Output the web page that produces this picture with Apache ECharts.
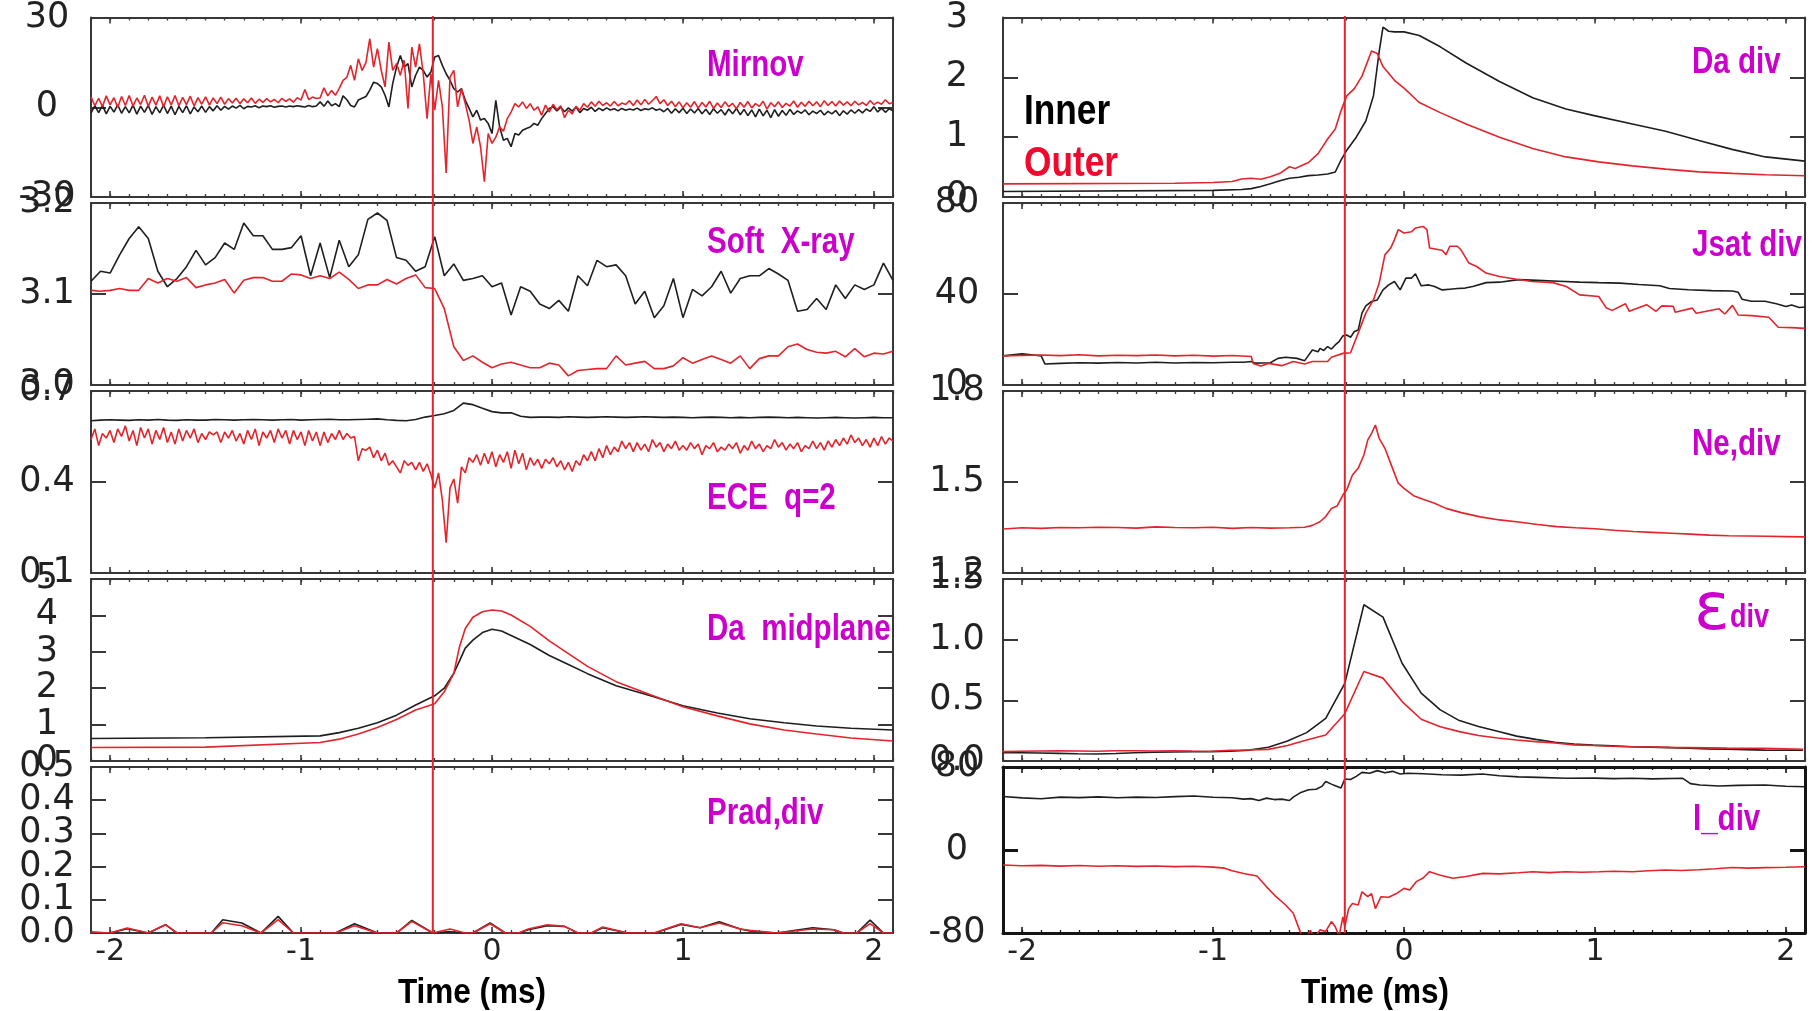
<!DOCTYPE html>
<html>
<head>
<meta charset="utf-8">
<script src="https://cdn.jsdelivr.net/npm/echarts@6/dist/echarts.min.js"></script>
<style>
  html, body { margin: 0; padding: 0; background: #ffffff; }
  #chart { width: 1812px; height: 1011px; }
</style>
</head>
<body>
<div id="chart"></div>
<script>
// ---------------- time axis (ms) ----------------
const timeMin = -2.1, timeMax = 2.1;
const timeTicks = [-2, -1, 0, 1, 2];
const eventTime = -0.31;          // vertical marker drawn through every panel

// ---------------- Mirnov (sampled every 0.02 ms from -2.1 ms) ----------------
const mirnovStart = -2.1, mirnovStep = 0.02;
const mirnovInner = [
  -2.0, 0.5, -1.8, 0.6, -2.2, 0.3, -1.6, 0.8, -2.0, 0.2,
  -1.9, 0.7, -2.3, 0.4, -1.7, 0.6, -2.4, 0.2, -1.9, 0.7,
  -2.1, 0.4, -2.5, 0.3, -1.8, 0.5, -2.2, 0.1, -1.5, 0.4,
  -1.7, 0.2, -1.2, 0.5, -1.0, 0.3,
  -0.6, 0.4, -0.3, 0.6, -0.5, 0.3, 0.1, 0.5, -0.2, 0.4,
  0.2, 0.5, 0.0, 0.3, 0.4, 0.1, 0.4, 0.2, 0.5, 0.3,
  0.1, 0.6, 0.2, 0.4,
  1.8, 0.3, 2.1, 0.5, 1.2, 0.2, 3.8, 2.5, 0.6, 0.1, 2.4, 3.0, 3.6,
  5.7, 8.4, 7.9, 6.8, 4.0, 0.1, 7.9, 13.4, 17.3, 13.4,
  14.6, 6.8, 10.7, 13.4, 12.3, 10.1, 11.8, 16.8, 17.3, 14.0,
  11.2, 9.0, 6.2, 5.1, 6.2, 2.3, -0.4, -3.2, -1.0, -4.3,
  -3.8, -5.4, -8.8, 2.3, -6.6, -11.0, -10.4, -13.2, -8.8, -9.3,
  -7.7, -7.1, -6.6, -5.4, -6.0, -3.8, -2.1, -0.4,
  0.2, -1.2, 0.0, -1.5, -0.2, -1.3, 0.1, -1.8, -0.4, -1.0,
  0.0, -1.4, -0.3, -1.1, -0.2, -0.9, -0.5, -1.2, -0.4, -1.0,
  -0.6, -0.9, -0.3, -1.1, -0.5, -0.8, -0.2, -1.0, -0.6, -1.5,
  -0.4, -2.0, -0.5, -1.8, -0.3, -2.1, -0.6, -1.9, -0.4, -2.2,
  -0.7, -2.4, -0.5, -2.0, -0.8, -2.6, -0.6, -2.2, -0.4, -2.5,
  -0.7, -2.8, -0.9, -3.2, -0.6, -2.9, -1.0, -3.5, -0.8, -3.0,
  -1.1, -2.7, -0.7, -2.4, -1.2, -2.0, -0.9, -2.5, -1.3, -2.1,
  -1.0, -2.6, -1.4, -2.2, -1.1, -2.8, -1.2, -2.3, -0.9, -2.0,
  -0.8, -1.9, -0.6, -1.4, 0.2, -1.6, -0.3, -1.7, -0.5, -1.2
];
const mirnovOuter = [
  3.5, 0.5, 3.0, 0.2, 3.8, 0.8, 3.2, 0.0, 3.6, 0.6,
  3.9, 0.4, 3.1, 0.9, 4.0, 0.3, 3.4, 0.7, 3.8, 0.2,
  3.5, 0.8, 3.9, 0.5, 3.3, 0.9, 3.7, 0.4, 3.2, 1.0,
  3.5, 0.7, 3.1, 1.2, 3.4, 1.0, 2.9, 1.4, 3.0, 1.2,
  2.8, 1.5, 3.1, 1.3, 2.7,
  1.6, 2.9, 1.8, 2.6, 1.5, 3.0, 2.0, 2.8, 1.7, 3.2, 2.4, 5.9, 2.6, 3.4, 2.9,
  3.2, 6.5, 3.8, 5.6, 4.0, 6.3, 9.0, 10.0, 14.0, 9.0, 16.2, 12.3,
  15.0, 22.9, 13.4, 19.6, 12.3, 6.8, 21.8, 12.3, 14.6, 10.7,
  15.7, -0.4, 20.1, 13.4, 21.2, 11.2, -3.8, 11.2, -1.0, 9.0,
  0.1, -22.0, 10.1, 12.3, 0.1, 6.2, 1.2, -4.3, -12.1, -6.6,
  -13.2, -24.9, -8.8, -12.1, -10.0, -6.5, -8.0, -3.8, -1.6, 1.2,
  0.1, 1.8, -0.4, 1.2, -1.0, 0.1, -2.7, 0.7, -1.6,
  1.0, -0.8, 0.5, -3.5, -1.0, -2.2, 0.3, -1.0, 1.2, 0.0,
  1.8, 0.3, 2.0, 0.6, 1.5, 0.4, 1.9, 0.5, 1.4, 0.9,
  2.2, 0.6, 2.4, 0.8, 2.6, 1.0, 2.2, 3.6, 1.2, 2.5,
  0.6, 2.0, 0.2, 1.8, -0.2, 1.5, 0.0, 1.9, -0.3, 1.6,
  0.1, 2.0, -0.4, 1.4, -0.1, 1.8, 0.2, 1.3, -0.5, 1.6,
  0.0, 1.9, -0.2, 1.2, 0.3, 2.0, -0.6, 1.5, 0.2, 1.8,
  -0.1, 1.3, 0.4, 2.1, 0.0, 1.7, 0.3, 2.0, 0.5, 1.8,
  0.2, 2.2, 0.6, 1.9, 0.4, 2.1, 0.7, 1.8, 0.5, 2.0,
  0.8, 1.6, 0.6, 2.2, 0.9, 1.7, 1.0, 2.5, 1.2, 1.6
];

// ---------------- Soft X-ray (every 0.05 ms from -2.1 ms) ----------------
const sxrStart = -2.1, sxrStep = 0.05;
const sxrInner = [
  3.114, 3.125, 3.123, 3.143, 3.161, 3.174, 3.161, 3.125, 3.108, 3.117,
  3.130, 3.148, 3.132, 3.140, 3.156, 3.149, 3.178, 3.164, 3.164, 3.149,
  3.149, 3.151, 3.164, 3.120, 3.156, 3.118, 3.159, 3.130, 3.143, 3.182,
  3.189, 3.181, 3.140, 3.137, 3.125, 3.130, 3.163, 3.120, 3.133, 3.115,
  3.117, 3.120, 3.108, 3.112, 3.077, 3.108, 3.103, 3.089, 3.084, 3.093,
  3.081, 3.120, 3.109, 3.137, 3.130, 3.132, 3.120, 3.089, 3.103, 3.074,
  3.087, 3.117, 3.074, 3.105, 3.098, 3.108, 3.125, 3.101, 3.117, 3.120,
  3.120, 3.128, 3.122, 3.115, 3.081, 3.083, 3.095, 3.083, 3.110, 3.095,
  3.110, 3.105, 3.110, 3.134, 3.115
];
const sxrOuter = [
  3.104, 3.103, 3.104, 3.106, 3.104, 3.104, 3.117, 3.112, 3.117, 3.114,
  3.118, 3.107, 3.110, 3.112, 3.116, 3.101, 3.115, 3.118, 3.118, 3.114,
  3.114, 3.122, 3.121, 3.117, 3.120, 3.117, 3.124, 3.116, 3.106, 3.110,
  3.110, 3.116, 3.111, 3.117, 3.121, 3.107, 3.106, 3.084, 3.042, 3.027,
  3.032, 3.025, 3.019, 3.023, 3.025, 3.022, 3.019, 3.019, 3.024, 3.022,
  3.010, 3.016, 3.017, 3.018, 3.018, 3.032, 3.022, 3.024, 3.026, 3.018,
  3.018, 3.021, 3.030, 3.024, 3.028, 3.032, 3.028, 3.024, 3.032, 3.018,
  3.029, 3.032, 3.032, 3.042, 3.045, 3.039, 3.036, 3.035, 3.037, 3.031,
  3.040, 3.031, 3.035, 3.034, 3.037
];

// ---------------- ECE q=2 ----------------
const eceInnerStart = -2.1, eceInnerStep = 0.05;
const eceInner = [
  0.602, 0.604, 0.605, 0.604, 0.603, 0.605, 0.604, 0.606, 0.604, 0.603,
  0.605, 0.604, 0.604, 0.606, 0.605, 0.604, 0.605, 0.606, 0.605, 0.604,
  0.605, 0.606, 0.604, 0.605, 0.606, 0.607, 0.605, 0.605, 0.606, 0.607,
  0.608, 0.605, 0.603, 0.602, 0.606, 0.614, 0.619, 0.625, 0.636, 0.660,
  0.655, 0.643, 0.632, 0.628, 0.628, 0.617, 0.613, 0.614, 0.614, 0.613,
  0.615, 0.614, 0.613, 0.614, 0.615, 0.614, 0.613, 0.614, 0.615, 0.614,
  0.613, 0.614, 0.613, 0.612, 0.613, 0.614, 0.613, 0.612, 0.613, 0.612,
  0.613, 0.614, 0.613, 0.612, 0.613, 0.612, 0.611, 0.612, 0.613, 0.612,
  0.611, 0.612, 0.613, 0.612, 0.612
];
const eceOuterStart = -2.1, eceOuterStep = 0.02;
const eceOuter = [
  0.54, 0.575, 0.52, 0.56, 0.545, 0.57, 0.53, 0.575, 0.55, 0.585,
  0.535, 0.57, 0.52, 0.58, 0.545, 0.575, 0.525, 0.57, 0.54, 0.58,
  0.53, 0.565, 0.525, 0.575, 0.535, 0.57, 0.545, 0.575, 0.53, 0.56,
  0.54, 0.565, 0.555, 0.565, 0.53, 0.565, 0.545, 0.57, 0.535, 0.56,
  0.525, 0.57, 0.54, 0.575, 0.52, 0.565, 0.545, 0.57, 0.53, 0.575,
  0.545, 0.57, 0.525, 0.57, 0.54, 0.565, 0.52, 0.57, 0.535, 0.565,
  0.52, 0.565, 0.53, 0.56, 0.54, 0.57, 0.54, 0.56, 0.545, 0.55,
  0.47, 0.51, 0.505, 0.515, 0.48, 0.505, 0.47, 0.495, 0.455, 0.47,
  0.45, 0.43, 0.47, 0.455, 0.465, 0.44, 0.465, 0.435, 0.46, 0.425,
  0.38, 0.43, 0.34, 0.20, 0.38, 0.41, 0.33, 0.45, 0.43, 0.48, 0.465,
  0.49, 0.455, 0.495, 0.46, 0.5, 0.45, 0.49, 0.465, 0.5, 0.445,
  0.505, 0.46, 0.495, 0.44, 0.48, 0.455, 0.475, 0.445, 0.475, 0.46,
  0.48, 0.45, 0.47, 0.44, 0.465, 0.435, 0.47, 0.455, 0.49, 0.47,
  0.5, 0.47, 0.51, 0.48, 0.52, 0.49, 0.515,
  0.5, 0.535, 0.51, 0.53, 0.5, 0.53, 0.505, 0.525, 0.5, 0.54,
  0.515, 0.53, 0.5, 0.525, 0.51, 0.535, 0.505, 0.52, 0.505, 0.53,
  0.51, 0.525, 0.49, 0.52, 0.51, 0.53, 0.5, 0.515, 0.505, 0.525,
  0.51, 0.53, 0.495, 0.52, 0.505, 0.535, 0.51, 0.525, 0.5, 0.52,
  0.51, 0.54, 0.515, 0.53, 0.505, 0.525, 0.51, 0.53, 0.5, 0.52,
  0.51, 0.535, 0.51, 0.53, 0.505, 0.535, 0.515, 0.54, 0.52, 0.545,
  0.525, 0.555, 0.53, 0.545, 0.52, 0.54, 0.515, 0.545, 0.52, 0.55,
  0.525, 0.545, 0.535
];

// ---------------- Da midplane ----------------
const daMidT = [-2.1, -1.5, -0.9, -0.8, -0.7, -0.6, -0.5, -0.4, -0.3, -0.25, -0.2, -0.17, -0.14, -0.1, -0.05,
  0.0, 0.05, 0.1, 0.2, 0.3, 0.4, 0.5, 0.65, 0.83, 1.0, 1.18, 1.35, 1.53, 1.7, 1.88, 2.1];
const daMidInner = [0.62, 0.64, 0.69, 0.78, 0.9, 1.05, 1.26, 1.54, 1.79, 2.0, 2.41, 2.75, 3.1, 3.32, 3.53,
  3.62, 3.57, 3.45, 3.2, 2.9, 2.65, 2.4, 2.07, 1.79, 1.52, 1.32, 1.16, 1.05, 0.96, 0.9, 0.85];
const daMidOuter = [0.37, 0.38, 0.51, 0.6, 0.74, 0.92, 1.14, 1.4, 1.57, 1.9, 2.41, 3.14, 3.64, 3.95, 4.1,
  4.15, 4.12, 4.01, 3.7, 3.3, 2.95, 2.6, 2.18, 1.82, 1.49, 1.24, 1.02, 0.85, 0.74, 0.63, 0.55];

// ---------------- Prad,div ----------------
const pradT = [-2.1, -2.0, -1.91, -1.8, -1.71, -1.65, -1.47, -1.41, -1.31, -1.21,
  -1.12, -1.04, -0.82, -0.72, -0.6, -0.5, -0.42, -0.31, -0.22, -0.14,
  -0.1, -0.01, 0.07, 0.14, 0.19, 0.29, 0.38, 0.45, 0.52, 0.58,
  0.71, 0.85, 0.99, 1.09, 1.19, 1.3, 1.35, 1.49, 1.68, 1.79,
  1.84, 1.91, 1.98, 2.05, 2.1];
const pradInner = [0.002, 0, 0.013, 0, 0.025, 0, 0, 0.04, 0.03, 0,
  0.05, 0, 0, 0.028, 0, 0, 0.038, 0, 0.004, 0,
  0, 0.03, 0, 0, 0.01, 0.022, 0.02, 0, 0, 0.016,
  0, 0, 0.026, 0.016, 0.034, 0.012, 0.006, 0, 0.016, 0.01,
  0, 0, 0.039, 0, 0];
const pradOuter = [0.003, 0, 0.015, 0, 0.025, 0, 0, 0.031, 0.022, 0,
  0.04, 0, 0, 0.022, 0, 0, 0.035, 0, 0.012, 0,
  0, 0.028, 0, 0, 0.012, 0.025, 0.02, 0, 0, 0.018,
  0, 0, 0.028, 0.016, 0.03, 0.012, 0.008, 0, 0.012, 0.01,
  0, 0, 0.028, 0, 0];

// ---------------- Da div ----------------
const daDivInnerT = [-2.1, -1.0, -0.85, -0.8, -0.75, -0.7, -0.65, -0.6, -0.55, -0.5, -0.45, -0.4, -0.36, -0.33,
  -0.3, -0.25, -0.2, -0.16, -0.13, -0.11, -0.08, -0.05, 0.0, 0.08, 0.19, 0.325, 0.5, 0.674, 0.848, 0.996,
  1.196, 1.37, 1.545, 1.718, 1.893, 2.1];
const daDivInner = [0.093, 0.11, 0.125, 0.14, 0.176, 0.22, 0.27, 0.313, 0.33, 0.357, 0.368, 0.385, 0.418, 0.615,
  0.78, 1.0, 1.27, 1.69, 2.43, 2.84, 2.77, 2.76, 2.76, 2.70, 2.51, 2.24, 1.93, 1.66, 1.47, 1.36,
  1.22, 1.10, 0.944, 0.796, 0.67, 0.60];
const daDivOuterT = [-2.1, -1.2, -1.0, -0.9, -0.85, -0.8, -0.75, -0.7, -0.65, -0.6, -0.57, -0.55, -0.5, -0.45,
  -0.4, -0.36, -0.33, -0.3, -0.26, -0.22, -0.17, -0.14, -0.11, -0.05, 0.0, 0.08, 0.19, 0.325, 0.5, 0.674,
  0.848, 1.02, 1.196, 1.37, 1.545, 1.72, 1.893, 2.1];
const daDivOuter = [0.22, 0.23, 0.242, 0.258, 0.30, 0.313, 0.297, 0.34, 0.396, 0.505, 0.478, 0.505, 0.577, 0.725,
  0.97, 1.137, 1.44, 1.69, 1.81, 2.02, 2.44, 2.40, 2.18, 1.95, 1.82, 1.58, 1.41, 1.22, 1.0, 0.81,
  0.67, 0.587, 0.52, 0.466, 0.42, 0.395, 0.373, 0.356];

// ---------------- Jsat div ----------------
const jsatInnerT = [-2.1, -2.0, -1.94, -1.9, -1.88, -1.8, -1.7, -1.6, -1.5, -1.4, -1.3, -1.2, -1.1, -1.0, -0.9,
  -0.84, -0.8, -0.78, -0.7, -0.66, -0.62, -0.56, -0.52, -0.48, -0.45, -0.44, -0.42, -0.4, -0.38, -0.36,
  -0.34, -0.32, -0.3, -0.28, -0.26, -0.24, -0.22, -0.2, -0.17, -0.14, -0.11, -0.08, -0.05, -0.02, 0.01,
  0.04, 0.06, 0.09, 0.13, 0.16, 0.2, 0.24, 0.28, 0.32, 0.36, 0.43, 0.5, 0.6, 0.7, 0.81,
  0.92, 1.02, 1.13, 1.23, 1.34, 1.39, 1.49, 1.61, 1.72, 1.75, 1.77, 1.82, 1.89, 1.95, 2.0,
  2.03, 2.07, 2.1];
const jsatInner = [12.8, 13.7, 13.2, 12.8, 9.2, 9.5, 9.8, 9.6, 9.9, 9.7, 10.0, 9.7, 9.9, 9.8, 10.0,
  10.0, 10.3, 9.6, 9.8, 11.7, 12.2, 11.7, 10.7, 15.4, 14.6, 16.1, 15.2, 16.9, 15.8, 17.6,
  19.1, 21.6, 22.0, 21.0, 23.5, 24.2, 31.6, 34.8, 36.7, 37.4, 41.8, 44.0, 45.5, 41.8, 47.0,
  47.0, 48.9, 43.6, 44.0, 43.3, 41.8, 42.1, 42.4, 42.6, 43.3, 45.0, 45.2, 46.3, 46.0, 45.6,
  45.2, 45.0, 44.8, 44.2, 43.6, 42.4, 41.9, 41.5, 41.3, 40.8, 37.7, 36.8, 36.8, 35.7, 34.5,
  35.2, 34.1, 34.3];
const jsatOuterT = [-2.1, -1.9, -1.8, -1.7, -1.6, -1.5, -1.4, -1.3, -1.2, -1.1, -1.0, -0.9, -0.8, -0.79, -0.75,
  -0.71, -0.64, -0.58, -0.52, -0.48, -0.4, -0.38, -0.32, -0.28, -0.24, -0.2, -0.16, -0.13, -0.1, -0.07,
  -0.05, -0.03, 0.0, 0.04, 0.06, 0.1, 0.12, 0.134, 0.2, 0.22, 0.24, 0.28, 0.3, 0.34, 0.38,
  0.43, 0.5, 0.59, 0.67, 0.78, 0.85, 0.92, 1.02, 1.06, 1.09, 1.16, 1.18, 1.27, 1.32, 1.35,
  1.41, 1.42, 1.51, 1.53, 1.65, 1.68, 1.72, 1.75, 1.82, 1.91, 1.96, 2.03, 2.1];
const jsatOuter = [12.8, 13.2, 12.9, 13.3, 12.8, 13.1, 12.9, 13.2, 12.8, 13.1, 12.7, 13.0, 12.5, 9.5, 8.4,
  9.5, 8.5, 10.3, 9.2, 10.3, 10.3, 12.2, 13.9, 14.2, 22.8, 31.6, 37.4, 44.8, 57.2, 60.2,
  63.9, 68.3, 66.8, 67.4, 69.0, 69.7, 68.3, 60.2, 59.2, 57.3, 61.0, 61.0, 59.2, 53.6, 52.1,
  49.2, 47.7, 46.5, 45.5, 45.0, 43.3, 39.6, 38.9, 33.8, 32.8, 35.7, 32.4, 35.3, 32.4, 34.8,
  34.6, 32.0, 33.8, 31.5, 33.5, 31.2, 35.0, 30.8, 30.5, 29.8, 25.4, 25.2, 24.9];

// ---------------- Ne,div (outer only) ----------------
const neT = [-2.1, -2.0, -1.9, -1.8, -1.7, -1.6, -1.5, -1.4, -1.3, -1.2, -1.1, -1.0, -0.9, -0.8, -0.7, -0.6,
  -0.52, -0.48, -0.44, -0.41, -0.38, -0.35, -0.32, -0.3, -0.27, -0.24, -0.21, -0.19, -0.17, -0.15,
  -0.13, -0.1, -0.06, -0.03, 0.0, 0.05, 0.1, 0.16, 0.22, 0.3,
  0.4, 0.5, 0.6, 0.7, 0.8, 0.9, 1.0, 1.1, 1.2, 1.3, 1.4, 1.5, 1.6, 1.7, 1.8, 1.9, 2.0, 2.1];
const neOuter = [1.345, 1.349, 1.347, 1.35, 1.349, 1.351, 1.35, 1.348, 1.352, 1.35, 1.349, 1.351, 1.347, 1.35, 1.348, 1.349,
  1.351, 1.357, 1.369, 1.386, 1.413, 1.421, 1.457, 1.474, 1.523, 1.545, 1.589, 1.638, 1.66, 1.688,
  1.644, 1.611, 1.545, 1.496, 1.479, 1.455, 1.443, 1.43, 1.413, 1.399,
  1.385, 1.375, 1.368, 1.36, 1.353, 1.349, 1.346, 1.341, 1.337, 1.334, 1.331, 1.328, 1.325, 1.323, 1.322, 1.321, 1.32, 1.319];

// ---------------- epsilon div (every 0.1 ms from -2.11 ms) ----------------
const epsStart = -2.11, epsStep = 0.1;
const epsInner = [0.069, 0.068, 0.066, 0.063, 0.06, 0.058, 0.062, 0.068, 0.072, 0.074,
  0.076, 0.077, 0.08, 0.09, 0.114, 0.165, 0.234, 0.352, 0.64, 1.288,
  1.186, 0.806, 0.559, 0.421, 0.333, 0.285, 0.245, 0.205, 0.178, 0.155,
  0.14, 0.131, 0.125, 0.118, 0.114, 0.11, 0.105, 0.1, 0.097, 0.094,
  0.09, 0.089, 0.088];
const epsOuter = [0.077, 0.08, 0.083, 0.085, 0.083, 0.08, 0.085, 0.085, 0.083, 0.085,
  0.082, 0.08, 0.088, 0.091, 0.096, 0.128, 0.173, 0.215, 0.39, 0.738,
  0.683, 0.49, 0.344, 0.283, 0.242, 0.21, 0.19, 0.173, 0.16, 0.148,
  0.133, 0.128, 0.122, 0.118, 0.115, 0.112, 0.11, 0.108, 0.106, 0.105,
  0.104, 0.1, 0.096];

// ---------------- I_div ----------------
const idivInnerT = [-2.1, -2.0, -1.9, -1.8, -1.7, -1.6, -1.5, -1.4, -1.3, -1.2, -1.1, -1.0, -0.9,
  -0.84, -0.8, -0.76, -0.72, -0.68, -0.64, -0.6, -0.58, -0.54, -0.5, -0.46, -0.43, -0.41, -0.38, -0.36,
  -0.33, -0.31, -0.28, -0.25, -0.22, -0.18, -0.14, -0.1, -0.06, -0.02,
  0.02, 0.1, 0.2, 0.3, 0.41, 0.5, 0.6, 0.7, 0.85, 1.0, 1.1, 1.2, 1.3, 1.46, 1.5, 1.55, 1.65, 1.75, 1.89, 2.0, 2.1];
const idivInner = [51.6, 50.2, 49.4, 51.0, 50.5, 51.2, 50.3, 51.0, 50.6, 51.4, 52.0, 50.8, 50.4,
  49.0, 49.5, 47.7, 50.0, 48.6, 49.0, 47.7, 51.0, 55.5, 58.0, 58.5, 61.3, 66.0, 63.5, 62.0,
  59.7, 68.4, 68.0, 71.0, 74.8, 74.0, 76.5, 74.5, 75.8, 73.2,
  74.0, 73.5, 72.6, 72.2, 73.3, 71.5, 70.5, 70.0, 69.1, 69.3, 68.8, 69.1, 68.6, 69.1, 64.0, 62.6, 61.7, 62.3, 62.6, 61.5, 61.0];
const idivOuterT = [-2.1, -2.0, -1.9, -1.8, -1.7, -1.6, -1.5, -1.4, -1.3, -1.2, -1.1, -1.0,
  -0.94, -0.9, -0.84, -0.77, -0.72, -0.67, -0.62, -0.58, -0.54, -0.52, -0.49, -0.47, -0.44, -0.41, -0.38, -0.36,
  -0.34, -0.32, -0.31, -0.29, -0.27, -0.24, -0.22, -0.19, -0.17, -0.15, -0.12, -0.08, -0.04, 0.0,
  0.03, 0.064, 0.1, 0.134, 0.186, 0.256, 0.325, 0.413, 0.5, 0.6, 0.674, 0.76, 0.848, 0.93, 1.022,
  1.1, 1.196, 1.28, 1.37, 1.45, 1.545, 1.63, 1.72, 1.8, 1.893, 2.0, 2.1];
const idivOuter = [-14.5, -15.2, -14.8, -15.5, -15.0, -15.6, -15.2, -15.8, -15.4, -16.0, -15.6, -16.5,
  -17.5, -20.0, -22.6, -25.0, -35.5, -45.0, -53.0, -61.0, -80.6, -87.0, -77.4, -85.0, -77.0, -78.5, -69.0, -74.0,
  -83.0, -64.5, -74.0, -56.5, -51.6, -53.0, -40.3, -45.0, -42.0, -56.5, -45.0, -45.5, -42.0, -37.0,
  -38.6, -30.5, -27.0, -20.9, -24.0, -27.3, -25.5, -22.5, -23.0, -22.0, -20.9, -21.8, -21.0, -21.5, -21.0,
  -20.5, -21.0, -20.0, -19.3, -19.8, -19.0, -18.0, -16.8, -17.5, -17.0, -16.6, -16.1];

// ---------------- helpers ----------------
function uniform(start, step, values) {
  return values.map((v, i) => [+(start + i * step).toFixed(4), v]);
}
function paired(times, values) {
  const n = Math.min(times.length, values.length), out = [];
  for (let i = 0; i < n; i++) out.push([times[i], values[i]]);
  return out;
}

// ---------------- styling ----------------
const COLOR_INNER = '#1e1e1e';
const COLOR_OUTER = '#e4232b';
const COLOR_FRAME = '#383838';
const COLOR_TAG = '#cc00cc';
const TICK_FONT = "'DejaVu Sans', 'Liberation Sans', sans-serif";
const TAG_FONT = "'Liberation Sans', Arial, sans-serif";

const colLeft = [91, 1003], colWidth = 802;
const rowTop = [16, 203, 391, 579, 767];
const rowHeight = [181, 182, 182, 182, 166];

const panels = [
  { col: 0, row: 0, min: -30, max: 30, ticks: [-30, 0, 30], dec: 0,
    inner: uniform(mirnovStart, mirnovStep, mirnovInner), outer: uniform(mirnovStart, mirnovStep, mirnovOuter) },
  { col: 0, row: 1, min: 3.0, max: 3.2, ticks: [3.0, 3.1, 3.2], dec: 1,
    inner: uniform(sxrStart, sxrStep, sxrInner), outer: uniform(sxrStart, sxrStep, sxrOuter) },
  { col: 0, row: 2, min: 0.1, max: 0.7, ticks: [0.1, 0.4, 0.7], dec: 1,
    inner: uniform(eceInnerStart, eceInnerStep, eceInner), outer: uniform(eceOuterStart, eceOuterStep, eceOuter) },
  { col: 0, row: 3, min: 0, max: 5, ticks: [0, 1, 2, 3, 4, 5], dec: 0,
    inner: paired(daMidT, daMidInner), outer: paired(daMidT, daMidOuter) },
  { col: 0, row: 4, min: 0, max: 0.5, ticks: [0, 0.1, 0.2, 0.3, 0.4, 0.5], dec: 1,
    inner: paired(pradT, pradInner), outer: paired(pradT, pradOuter) },
  { col: 1, row: 0, min: 0, max: 3, ticks: [0, 1, 2, 3], dec: 0,
    inner: paired(daDivInnerT, daDivInner), outer: paired(daDivOuterT, daDivOuter) },
  { col: 1, row: 1, min: 0, max: 80, ticks: [0, 40, 80], dec: 0,
    inner: paired(jsatInnerT, jsatInner), outer: paired(jsatOuterT, jsatOuter) },
  { col: 1, row: 2, min: 1.2, max: 1.8, ticks: [1.2, 1.5, 1.8], dec: 1,
    inner: null, outer: paired(neT, neOuter) },
  { col: 1, row: 3, min: 0, max: 1.5, ticks: [0, 0.5, 1.0, 1.5], dec: 1,
    inner: uniform(epsStart, epsStep, epsInner), outer: uniform(epsStart, epsStep, epsOuter) },
  { col: 1, row: 4, min: -80, max: 80, ticks: [-80, 0, 80], dec: 0, frameWidth: 3, frameColor: '#151515',
    inner: paired(idivInnerT, idivInner), outer: paired(idivOuterT, idivOuter) }
];

const grid = [], xAxis = [], yAxis = [], series = [];

panels.forEach((p, k) => {
  const fw = p.frameWidth || 2;
  const fc = p.frameColor || COLOR_FRAME;
  grid.push({ left: colLeft[p.col], top: rowTop[p.row], width: colWidth, height: rowHeight[p.row] });

  const xBase = { gridIndex: k, type: 'value', min: timeMin, max: timeMax, splitLine: { show: false }, silent: true };
  const frameLine = { show: true, onZero: false, lineStyle: { color: fc, width: fw } };
  const hiddenLine = { show: false, onZero: false };
  const xi = xAxis.length;
  // bottom edge: 0.1 ms minor ticks, time labels on the bottom row
  xAxis.push(Object.assign({}, xBase, {
    position: 'bottom', interval: 0.1,
    axisLine: frameLine,
    axisTick: { show: true, inside: true, length: 3, lineStyle: { color: fc, width: 1.3 } },
    axisLabel: { show: p.row === 4, customValues: timeTicks, margin: 4, fontSize: 30,
      fontFamily: TICK_FONT, color: '#222', formatter: v => String(Math.round(v)) }
  }));
  // bottom edge: 1 ms major ticks
  xAxis.push(Object.assign({}, xBase, {
    position: 'bottom', axisLine: hiddenLine,
    axisTick: { show: true, inside: true, length: 6, customValues: timeTicks, lineStyle: { color: fc, width: 1.6 } },
    axisLabel: { show: false }
  }));
  // top edge
  xAxis.push(Object.assign({}, xBase, {
    position: 'top', interval: 0.1, axisLine: frameLine,
    axisTick: { show: true, inside: true, length: 3, lineStyle: { color: fc, width: 1.3 } },
    axisLabel: { show: false }
  }));
  xAxis.push(Object.assign({}, xBase, {
    position: 'top', axisLine: hiddenLine,
    axisTick: { show: true, inside: true, length: 6, customValues: timeTicks, lineStyle: { color: fc, width: 1.6 } },
    axisLabel: { show: false }
  }));

  const yi = yAxis.length;
  const yBase = { gridIndex: k, type: 'value', min: p.min, max: p.max, splitLine: { show: false }, silent: true };
  const labelStyle = { show: true, interval: 0, hideOverlap: false, align: 'center',
    margin: p.col === 0 ? 44 : 46, fontSize: 35, fontFamily: TICK_FONT, color: '#222',
    formatter: v => Number(v).toFixed(p.dec) };
  // left frame with ticks and every other label
  yAxis.push(Object.assign({}, yBase, {
    position: 'left', axisLine: frameLine,
    axisTick: { show: true, inside: true, length: 15, interval: 0, customValues: p.ticks, lineStyle: { color: fc, width: fw } },
    axisLabel: Object.assign({}, labelStyle, { customValues: p.ticks.filter((_, i) => i % 2 === 0) })
  }));
  // remaining labels on a twin axis so close neighbours are not dropped
  yAxis.push(Object.assign({}, yBase, {
    position: 'left', axisLine: { show: false, onZero: false }, axisTick: { show: false },
    axisLabel: Object.assign({}, labelStyle, { customValues: p.ticks.filter((_, i) => i % 2 === 1) })
  }));
  yAxis.push(Object.assign({}, yBase, {
    position: 'right', axisLine: frameLine,
    axisTick: { show: true, inside: true, length: 15, interval: 0, customValues: p.ticks, lineStyle: { color: fc, width: fw } },
    axisLabel: { show: false }
  }));

  const lineBase = { type: 'line', xAxisIndex: xi, yAxisIndex: yi, symbol: 'none', showSymbol: false,
    clip: true, silent: true, animation: false, z: 3 };
  if (p.inner) series.push(Object.assign({}, lineBase, { name: 'Inner', data: p.inner,
    lineStyle: { color: COLOR_INNER, width: 1.6 }, itemStyle: { color: COLOR_INNER } }));
  if (p.outer) series.push(Object.assign({}, lineBase, { name: 'Outer', data: p.outer,
    lineStyle: { color: COLOR_OUTER, width: 1.6 }, itemStyle: { color: COLOR_OUTER } }));
});

// full-height overlay per column carrying the event-time marker
[0, 1].forEach(c => {
  const gi = grid.length;
  grid.push({ left: colLeft[c], top: rowTop[0], width: colWidth, height: rowTop[4] + rowHeight[4] - rowTop[0] });
  const xi = xAxis.length, yi = yAxis.length;
  xAxis.push({ gridIndex: gi, type: 'value', min: timeMin, max: timeMax, show: false });
  yAxis.push({ gridIndex: gi, type: 'value', min: 0, max: 1, show: false });
  series.push({ type: 'line', xAxisIndex: xi, yAxisIndex: yi, symbol: 'none', silent: true, animation: false, z: 6,
    data: [[eventTime, 0], [eventTime, 1]], lineStyle: { color: COLOR_OUTER, width: 2 } });
});

// captions: bold sans squeezed horizontally into a narrow face
function caption(text, x, y, opts, squeeze) {
  return {
    type: 'text', x: x, y: y, scaleX: squeeze == null ? 0.82 : squeeze, scaleY: 1,
    silent: true, z: 20,
    style: Object.assign({ text: text, x: 0, y: 0, fill: COLOR_TAG, fontFamily: TAG_FONT, fontWeight: 'bold',
      fontSize: 36, align: 'left', verticalAlign: 'middle' }, opts || {})
  };
}
const graphic = [
  caption('Mirnov', 707, 66),
  caption('Soft  X-ray', 707, 243),
  caption('ECE  q=2', 707, 499),
  caption('Da  midplane', 707, 630),
  caption('Prad,div', 707, 814),
  caption('Da div', 1692, 63),
  caption('Jsat div', 1692, 246),
  caption('Ne,div', 1692, 445),
  caption('\u03B5', 1694, 612, { fontFamily: "'DejaVu Sans', sans-serif", fontWeight: 'normal', fontSize: 66 }, 1),
  caption('div', 1730, 618, { fontSize: 33 }),
  caption('I_div', 1693, 820),
  caption('Inner', 1024, 112, { fill: '#000000', fontSize: 43 }),
  caption('Outer', 1024, 164, { fill: '#ee0a2c', fontSize: 43 }),
  caption('Time (ms)', 472, 993, { fill: '#000000', fontSize: 35, align: 'center' }, 0.9),
  caption('Time (ms)', 1375, 993, { fill: '#000000', fontSize: 35, align: 'center' }, 0.9)
];

const chart = echarts.init(document.getElementById('chart'), null, { renderer: 'canvas' });
chart.setOption({
  animation: false,
  backgroundColor: '#ffffff',
  grid: grid,
  xAxis: xAxis,
  yAxis: yAxis,
  series: series,
  graphic: graphic
});
</script>
</body>
</html>
